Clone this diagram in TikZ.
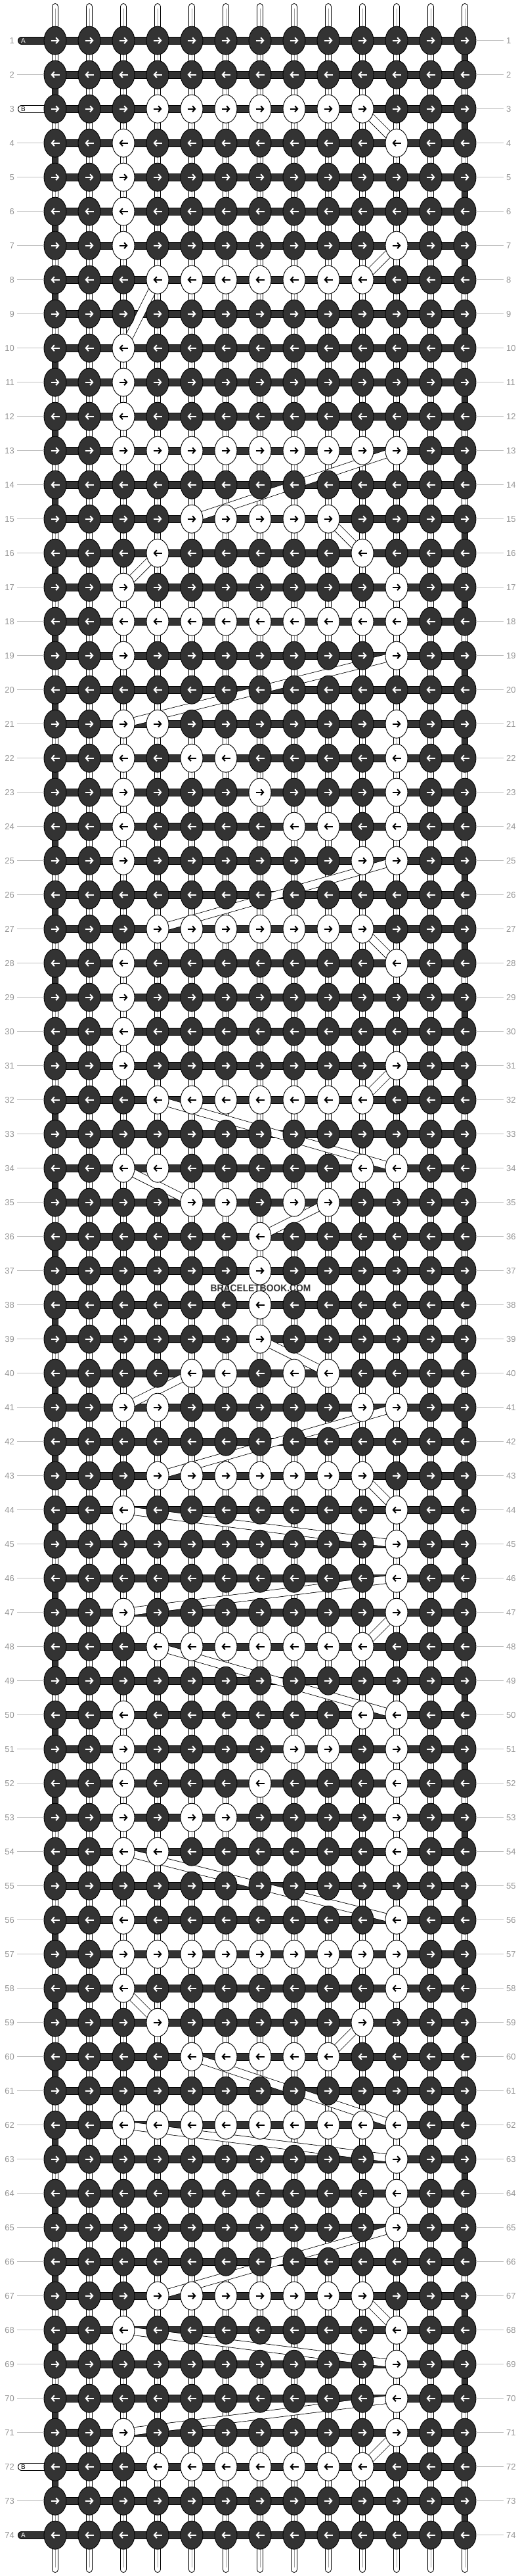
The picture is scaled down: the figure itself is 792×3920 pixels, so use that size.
\documentclass[tikz,border=0pt]{standalone}
\usepackage{fontspec}
\usepackage{graphicx}
\setmainfont{Liberation Sans}
\usetikzlibrary{shapes.geometric,arrows.meta}
\definecolor{knotdark}{RGB}{51,51,51}
\definecolor{numgray}{RGB}{150,150,150}
\definecolor{guidegray}{RGB}{190,190,190}
\definecolor{midgray}{RGB}{160,160,160}
\pgfdeclarelayer{strings}
\pgfdeclarelayer{bands}
\pgfsetlayers{strings,bands,main}
\expandafter\def\csname te1\endcsname{}
\expandafter\def\csname te3\endcsname{}
\expandafter\def\csname te72\endcsname{}
\expandafter\def\csname te74\endcsname{}
\tikzset{
  dknot/.style={ellipse, draw=black, line width=0.9pt, fill=knotdark,
    minimum width=34pt, minimum height=43pt, inner sep=0pt, outer sep=0pt},
  wknot/.style={dknot, fill=white},
  arrline/.style={line width=2pt, -{Straight Barb[length=4pt,width=9pt]}},
  vstring/.style={line width=1pt, double=white, double distance=8pt, line cap=round},
  vmid/.style={line width=0.7pt, draw=midgray, shorten <=3pt, shorten >=3pt},
  hbar/.style={line width=1pt, double=knotdark, double distance=10pt},
  dturn/.style={line width=1pt, double=knotdark, double distance=8pt},
  dend/.style={line width=1pt, double=knotdark, double distance=10pt, line cap=round},
  wend/.style={line width=1pt, double=white, double distance=10pt, line cap=round},
  band/.style={line width=0.8pt, double=white, double distance=11pt},
  numlab/.style={inner sep=0pt, text=numgray, font=\fontsize{13}{13}\selectfont},
  guide/.style={draw=guidegray, line width=1pt},
  endlab/.style={inner sep=0pt, font=\fontsize{10}{10}\selectfont}
}
\begin{document}
\begin{tikzpicture}[x=1pt,y=-1pt]
\useasboundingbox (0,0) rectangle (792,3920);
% white knots data
\foreach \row/\cl in {3/{4,...,10},4/{3,11},5/3,6/3,7/{3,11},8/{4,...,10},10/3,11/3,12/3,
  13/{3,...,11},15/{5,...,9},16/{4,10},17/{3,11},18/{3,...,11},19/{3,11},21/{3,4,11},
  22/{3,5,6,11},23/{3,7,11},24/{3,8,9,11},25/{3,10,11},27/{4,...,10},28/{3,11},29/3,30/3,
  31/{3,11},32/{4,...,10},34/{3,4,10,11},35/{5,6,8,9},36/7,37/7,38/7,39/7,40/{5,6,8,9},
  41/{3,4,10,11},43/{4,...,10},44/{3,11},45/11,46/11,47/{3,11},48/{4,...,10},50/{3,10,11},
  51/{3,8,9,11},52/{3,7,11},53/{3,5,6,11},54/{3,4,11},56/{3,11},57/{3,...,11},58/{3,11},
  59/{4,10},60/{5,...,9},62/{3,...,11},63/11,64/11,65/11,67/{4,...,10},68/{3,11},69/11,
  70/11,71/{3,11},72/{4,...,10}}{
  \foreach \col in \cl {\expandafter\gdef\csname wk\row-\col\endcsname{}}
}
% knots and arrows
\foreach \row [evaluate=\row as \yy using {61.7+52*(\row-1)}] in {1,...,74} {
  \foreach \col [evaluate=\col as \xx using {84+52*(\col-1)}] in {1,...,13} {
    \ifcsname wk\row-\col\endcsname
      \node[wknot] (k\row-\col) at (\xx,\yy) {};
      \def\arrcol{black}
    \else
      \node[dknot] (k\row-\col) at (\xx,\yy) {};
      \def\arrcol{white}
    \fi
    \ifodd\row\relax
      \draw[arrline, draw=\arrcol] ([xshift=-6.5pt]k\row-\col.center) -- ([xshift=6.5pt]k\row-\col.center);
    \else
      \draw[arrline, draw=\arrcol] ([xshift=6.5pt]k\row-\col.center) -- ([xshift=-6.5pt]k\row-\col.center);
    \fi
  }
}
\begin{pgfonlayer}{strings}
  \fill[white] (0,0) rectangle (792,3920);
  \foreach \col [evaluate=\col as \xx using {84+52*(\col-1)}] in {1,...,13} {
    \coordinate (top\col) at (\xx,10);
    \coordinate (bot\col) at (\xx,3910);
    \draw[vstring] (top\col) -- (bot\col);
    \draw[vmid] (top\col) -- (bot\col);
  }
  \foreach \row in {1,...,74} {
    \draw[hbar] (k\row-1.center) -- (k\row-13.center);
  }
  \foreach \row [evaluate=\row as \rn using int(\row+1)] in {1,...,73} {
    \ifodd\row\relax
      \draw[dturn] (k\row-13.center) -- (k\rn-13.center);
    \else
      \draw[dturn] (k\row-1.center) -- (k\rn-1.center);
    \fi
  }
  \coordinate (eA1) at (33,61.7);
  \coordinate (eB3) at (33,165.7);
  \coordinate (eB72) at (33,3753.7);
  \coordinate (eA74) at (33,3857.7);
  \draw[dend] (eA1) -- (k1-1.center);
  \draw[wend] (eB3) -- (k3-1.center);
  \draw[wend] (eB72) -- (k72-1.center);
  \draw[dend] (eA74) -- (k74-1.center);
\end{pgfonlayer}
\node[endlab, text=white] (lA1) at (35.5,61.7) {A};
\node[endlab, text=black] (lB3) at (35.5,165.7) {B};
\node[endlab, text=black] (lB72) at (35.5,3753.7) {B};
\node[endlab, text=white] (lA74) at (35.5,3857.7) {A};
\begin{pgfonlayer}{bands}
  \foreach \a/\b/\c/\d in {3/10/4/11, 7/11/8/10, 8/4/10/3, 13/11/15/5, 15/9/16/10,
    16/4/17/3, 19/11/21/3, 25/11/27/4, 27/10/28/11, 31/11/32/10, 32/4/34/11, 34/3/35/5,
    35/9/36/7, 39/7/40/9, 40/5/41/3, 41/11/43/4, 43/10/44/11, 44/3/45/11, 46/11/47/3,
    47/11/48/10, 48/4/50/11, 54/3/56/11, 58/3/59/4, 59/10/60/9, 60/5/62/11, 62/3/63/11,
    65/11/67/4, 67/10/68/11, 68/3/69/11, 70/11/71/3, 71/11/72/10} {
    \draw[band] (k\a-\b.center) -- (k\c-\d.center);
  }
\end{pgfonlayer}
% row numbers
\foreach \row [evaluate=\row as \yy using {61.7+52*(\row-1)}] in {1,...,74} {
  \node[numlab, anchor=east] (ln\row) at (22,\yy) {\row};
  \node[numlab, anchor=west] (rn\row) at (771,\yy) {\row};
  \draw[guide, shorten >=4pt] (k\row-13.east) -- (rn\row.west);
  \ifcsname te\row\endcsname\else
    \draw[guide, shorten <=4pt] (ln\row.east) -- (k\row-1.west);
  \fi
}
\node[text=knotdark, inner sep=0pt, font=\fontsize{15}{15}\selectfont\bfseries] (wm) at (397,1960) {\scalebox{0.92}[1]{BRACELETBOOK.COM}};
\end{tikzpicture}
\end{document}
